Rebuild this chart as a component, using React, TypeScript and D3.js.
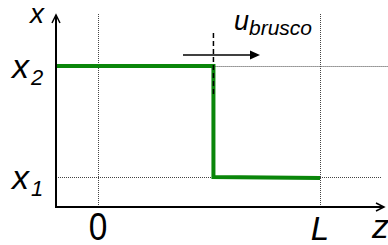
import React from "react";
import * as d3 from "d3";

const W = 388;
const H = 245;

// profile x(z): step at z_s from x2 to x1
const profileZ = [-0.19, 0.52, 0.52, 1];
const profileX = [2, 2, 1, 0.99];
const zTicks = [
  { v: 0, label: "0", italic: false, size: 38, sx: 0.88 },
  { v: 1, label: "L", italic: true, size: 33, sx: 1 },
];
const xTicks = [{ v: 2, label: "x", sub: "2" }, { v: 1, label: "x", sub: "1" }];
const stepZ = 0.52;

export default function App() {
  const z = d3.scaleLinear().domain([0, 1]).range([98, 320]);
  const x = d3.scaleLinear().domain([1, 2]).range([177, 66]);
  const originX = 56;
  const originY = 207;
  const line = d3
    .line<number>()
    .x((_, i) => z(profileZ[i]))
    .y((d) => x(d));
  const font = "'Liberation Sans', Arial, sans-serif";
  const dot = "1,1";
  const c = (v: number) => Math.round(v) + 0.5;
  return (
    <svg
      width={W}
      height={H}
      style={{ position: "fixed", left: 0, top: 0, background: "#fff" }}
      fontFamily={font}
    >
      {/* dotted guides */}
      <line x1={c(z(0))} x2={c(z(0))} y1={14} y2={originY} stroke="#444" strokeWidth={1} strokeDasharray={dot} />
      <line x1={c(z(1))} x2={c(z(1))} y1={14} y2={originY} stroke="#444" strokeWidth={1} strokeDasharray={dot} />
      <line x1={z(stepZ)} x2={W} y1={c(x(2))} y2={c(x(2))} stroke="#444" strokeWidth={1} strokeDasharray={dot} />
      <line x1={originX} x2={382} y1={c(x(1))} y2={c(x(1))} stroke="#444" strokeWidth={1} strokeDasharray={dot} />

      {/* profile */}
      <path d={line(profileX) || ""} fill="none" stroke="#0a860a" strokeWidth={4} strokeLinejoin="miter" />

      {/* dashed marker for front */}
      <line x1={z(stepZ)} x2={z(stepZ)} y1={33} y2={96} stroke="#000" strokeWidth={1.5} strokeDasharray="5,3" />

      {/* velocity arrow */}
      <line x1={183} x2={252} y1={55} y2={55} stroke="#000" strokeWidth={1.5} />
      <path d="M260,55 L250,50.5 L250,59.5 Z" fill="#000" />
      <text x={234} y={30} fontSize={27} fontStyle="italic">u</text>
      <text x={249} y={35} fontSize={21} fontStyle="italic">brusco</text>

      {/* axes */}
      <line x1={originX} x2={originX} y1={15} y2={originY + 1} stroke="#000" strokeWidth={2} />
      <path d={`M${originX - 4},${23} L${originX},${15} L${originX + 4},${23}`} fill="none" stroke="#000" strokeWidth={1.5} />
      <line x1={originX - 1} x2={384} y1={originY} y2={originY} stroke="#000" strokeWidth={2} />
      <path d={`M${376},${originY - 4} L${384},${originY} L${376},${originY + 4}`} fill="none" stroke="#000" strokeWidth={1.5} />

      {/* axis labels */}
      <text x={30} y={23} fontSize={28} fontStyle="italic">x</text>
      <text x={372} y={238} fontSize={34} fontStyle="italic">z</text>

      {xTicks.map((t) => (
        <g key={t.sub}>
          <text x={12} y={x(t.v) + 12} fontSize={34} fontStyle="italic">{t.label}</text>
          <text x={31} y={x(t.v) + 19} fontSize={22} fontStyle="italic">{t.sub}</text>
        </g>
      ))}
      {zTicks.map((t) => (
        <text
          key={t.label}
          transform={`translate(${z(t.v)},${240}) scale(${t.sx},1)`}
          fontSize={t.size}
          textAnchor="middle"
          fontStyle={t.italic ? "italic" : "normal"}
        >
          {t.label}
        </text>
      ))}
    </svg>
  );
}
